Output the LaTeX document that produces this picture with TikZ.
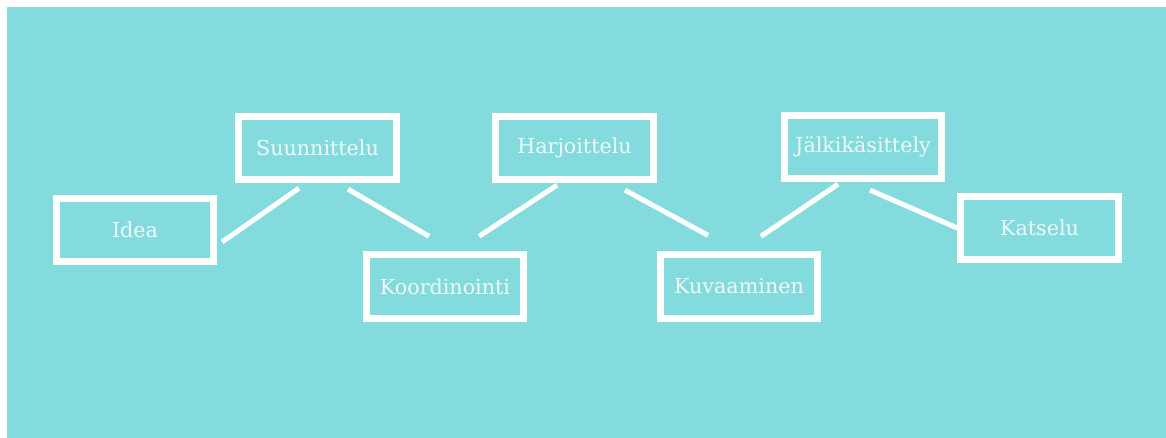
\documentclass[tikz,border=0pt]{standalone}
\usepackage{fontspec}
\setmainfont{DejaVu Serif}
\usetikzlibrary{calc}
\definecolor{teal}{HTML}{84DBDD}
\definecolor{boxwhite}{HTML}{FFFFFF}
\definecolor{txt}{HTML}{EEF9F9}
\tikzset{
  stage/.style={draw=boxwhite, line width=5.25pt, minimum width=118pt, minimum height=47.5pt,
    inner sep=0pt, text=txt, font=\fontsize{15.5}{18}\selectfont},
  link/.style={draw=boxwhite, line width=3.75pt}
}
\begin{document}
\begin{tikzpicture}[x=0.75pt,y=-0.75pt]
\useasboundingbox (0,0) rectangle (1166,438);
\fill[white] (0,0) rectangle (1166,438);
\fill[teal] (7,7) rectangle (1166,438);
\node[stage] (idea)  at (135,230)   {Idea};
\node[stage] (suun)  at (317.5,148) {Suunnittelu};
\node[stage] (koord) at (445,286.5) {Koordinointi};
\node[stage] (harj)  at (574.5,148) {Harjoittelu};
\node[stage] (kuva)  at (739,286.5) {Kuvaaminen};
\node[stage] (jalk)  at (863,147)   {Jälkikäsittely};
\node[stage] (kats)  at (1039.5,228) {Katselu};
\draw[link] ([shift={(5,12)}]idea.east) -- ([shift={(-18.5,5)}]suun.south);
\draw[link] ([shift={(30.5,6)}]suun.south) -- ([shift={(-16,-15)}]koord.north);
\draw[link] ([shift={(34,-15)}]koord.north) -- ([shift={(-17.5,2)}]harj.south);
\draw[link] ([shift={(50.5,7)}]harj.south) -- ([shift={(-31,-16)}]kuva.north);
\draw[link] ([shift={(22,-15)}]kuva.north) -- ([shift={(-25,2)}]jalk.south);
\draw[link] ([shift={(7,8)}]jalk.south) -- (kats.west);
\end{tikzpicture}
\end{document}
